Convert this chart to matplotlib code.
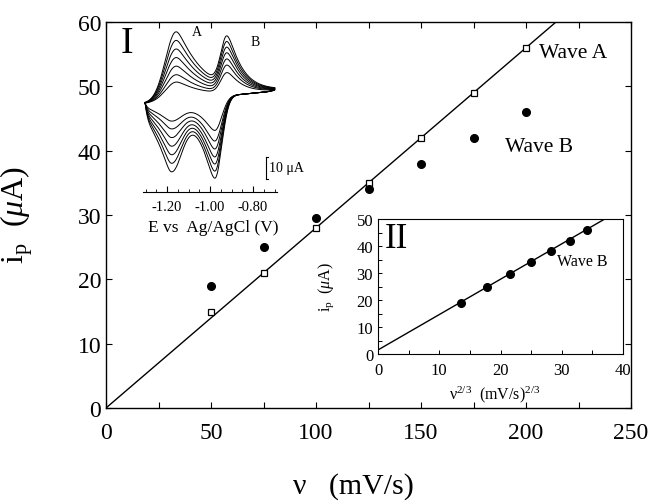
import numpy as np
import matplotlib
matplotlib.use("Agg")
import matplotlib.pyplot as plt

plt.rcParams['font.family'] = ['Liberation Serif', 'DejaVu Serif']
plt.rcParams['mathtext.fontset'] = 'custom'
plt.rcParams['mathtext.rm'] = 'Liberation Serif'
plt.rcParams['mathtext.it'] = 'Liberation Serif:italic'
plt.rcParams['axes.unicode_minus'] = False

# main plot data
scan_rate = [50, 75, 100, 125, 150, 175, 200]          # mV/s
ip_wave_a = [15, 21, 28, 35, 42, 49, 56]               # uA
ip_wave_b = [19, 25, 29.5, 34, 38, 42, 46]             # uA
slope_a = 0.28                                          # fit through origin

# inset II: wave B vs v^(2/3)
v23 = [13.6, 17.8, 21.5, 25.0, 28.2, 31.3, 34.2]
ip_b_inset = ip_wave_b
fit_b_slope, fit_b_icpt = 1.31, 1.5

# inset I: cyclic voltammograms, peak positions (V) and outer heights (uA)
E_start, E_end = -1.302, -0.698
base_left, base_right = -2.0, 3.6
up_peaks = [(-1.158, 31.2, 0.07, 0.121), (-0.921, 22.0, 0.04, 0.06)]
dn_peaks = [(-1.181, 28.4, 0.07, 0.08), (-0.977, 37.0, 0.045, 0.081)]


def pk(d, wl, wt, c=0.02):
    # gaussian rise before the peak, diffusion-like tail after it
    return np.where(d < 0, np.exp(-(d / wl) ** 2),
                    np.exp(-(np.sqrt(d ** 2 + c ** 2) - c) / wt))


W, H = 649, 502
fig = plt.figure(figsize=(6.49, 5.02), dpi=100)


def fx(px):
    return px / W


def fy(py):
    return 1 - py / H


# ---- main axes
ax = fig.add_axes([fx(106), fy(409), (631 - 106) / W, (409 - 23) / H])
ax.plot(scan_rate, ip_wave_a, 's', ms=5, mfc='white', mec='black', mew=0.9, zorder=3)
ax.plot(scan_rate, ip_wave_b, 'o', ms=5.5, color='black', zorder=3)
xx = np.array([0, 250])
ax.plot(xx, slope_a * xx, color='black', lw=1.0)
ax.set_xlim(0, 250)
ax.set_ylim(0, 60)
ax.set_xticks(np.arange(0, 251, 50))
ax.set_xticks(np.arange(0, 251, 25), minor=True)
ax.set_yticks(np.arange(0, 61, 10))
ax.tick_params(which='both', direction='in', top=True, right=True, labelsize=17, length=4, width=0.8)
ax.tick_params(axis='x', pad=10)
ax.set_xlabel('\u03bd   (mV/s)', fontsize=21.5)
ax.xaxis.set_label_coords(0.472, -0.165)
ax.set_ylabel(r'$\mathrm{i_p}$  ($\mathit{\mu}$A)', fontsize=23)
ax.yaxis.set_label_coords(-0.135, 0.503)
for s in ax.spines.values():
    s.set_linewidth(1.0)

fig.text(fx(539), fy(54), 'Wave A', fontsize=15.5, va='center')
fig.text(fx(505), fy(148), 'Wave B', fontsize=15.5, va='center')
fig.text(fx(121), fy(44), 'I', fontsize=27, va='center')

# ---- inset II
ax2 = fig.add_axes([fx(378), fy(355), (623 - 378) / W, (355 - 220) / H])
ax2.plot(v23, ip_b_inset, 'o', ms=5.5, color='black', zorder=3)
x2 = np.array([0, 40])
ax2.plot(x2, fit_b_icpt + fit_b_slope * x2, color='black', lw=1.0)
ax2.set_xlim(0, 40)
ax2.set_ylim(0, 50)
ax2.set_xticks(np.arange(0, 41, 10))
ax2.set_xticks(np.arange(0, 41, 5), minor=True)
ax2.set_yticks(np.arange(0, 51, 10))
ax2.set_yticks(np.arange(0, 51, 5), minor=True)
ax2.tick_params(which='both', direction='in', labelsize=12, length=3, width=0.7)
ax2.tick_params(axis='x', pad=6)
ax2.set_xlabel(r'$\mathrm{\nu^{2/3}}$  (mV/s)$^{\mathrm{2/3}}$', fontsize=11.5)
ax2.xaxis.set_label_coords(0.478, -0.215)
ax2.set_ylabel(r'$\mathrm{i_p}$  ($\mathit{\mu}$A)', fontsize=11.5)
ax2.yaxis.set_label_coords(-0.17, 0.504)
fig.text(fx(385), fy(239), 'II', fontsize=25, va='center')
fig.text(fx(557), fy(262), 'Wave B', fontsize=11.5, va='center')

# ---- inset I (CVs)
ax3 = fig.add_axes([fx(140), fy(205), 145 / W, 180 / H])
ax3.set_xlim(-1.3256, -0.6512)
ax3.set_ylim(-47.73, 34.09)
E = np.linspace(E_start, E_end, 500)
base = base_left + (base_right - base_left) * (E - E_start) / (E_end - E_start)
for ia, ib in zip(ip_wave_a, ip_wave_b):
    ra, rb = ia / max(ip_wave_a), ib / max(ip_wave_b)
    up = base.copy()
    dn = base.copy()
    for (p, h, wl, wt), r in zip(up_peaks, (ra, rb)):
        up += r * h * pk(E - p, wl, wt)
    for (p, h, wl, wt), r in zip(dn_peaks, (ra, rb)):
        dn -= r * h * pk(p - E, wl, wt)
    # join the two branches at the switching potentials
    dn += (up[-1] - dn[-1]) * np.exp(-(E_end - E) / 0.012)
    dn += (up[0] - dn[0]) * np.exp(-(E - E_start) / 0.012)
    ax3.plot(np.concatenate([E, E[::-1]]), np.concatenate([up, dn[::-1]]),
             color='black', lw=0.7)
for s in ['top', 'right', 'left']:
    ax3.spines[s].set_visible(False)
ax3.patch.set_visible(False)
ax3.spines['bottom'].set_position(('data', -42.3))
ax3.spines['bottom'].set_bounds(-1.31, -0.69)
ax3.spines['bottom'].set_linewidth(0.8)
ax3.set_yticks([])
ax3.set_xticks([-1.2, -1.0, -0.8])
ax3.set_xticklabels(['-1.20', '-1.00', '-0.80'])
ax3.set_xticks(np.arange(-1.30, -0.68, 0.05), minor=True)
ax3.tick_params(axis='x', which='major', direction='in', length=4, labelsize=10.5, pad=6)
ax3.tick_params(axis='x', which='minor', direction='in', length=2.5)
# 10 uA scale bar
ax3.plot([-0.7395, -0.7395], [-26.4, -36.4], color='black', lw=0.8)
ax3.plot([-0.7395, -0.730], [-26.4, -26.4], color='black', lw=0.8)
ax3.plot([-0.7395, -0.730], [-36.4, -36.4], color='black', lw=0.8)
fig.text(fx(269), fy(169), '10 \u03bcA', fontsize=10, va='center')
fig.text(fx(197), fy(33), 'A', fontsize=10, ha='center', va='center')
fig.text(fx(255), fy(42), 'B', fontsize=10, ha='center', va='center')
fig.text(fx(213), fy(228), 'E vs  Ag/AgCl (V)', fontsize=12.5, ha='center', va='center')

fig.savefig('out.png', dpi=100)
